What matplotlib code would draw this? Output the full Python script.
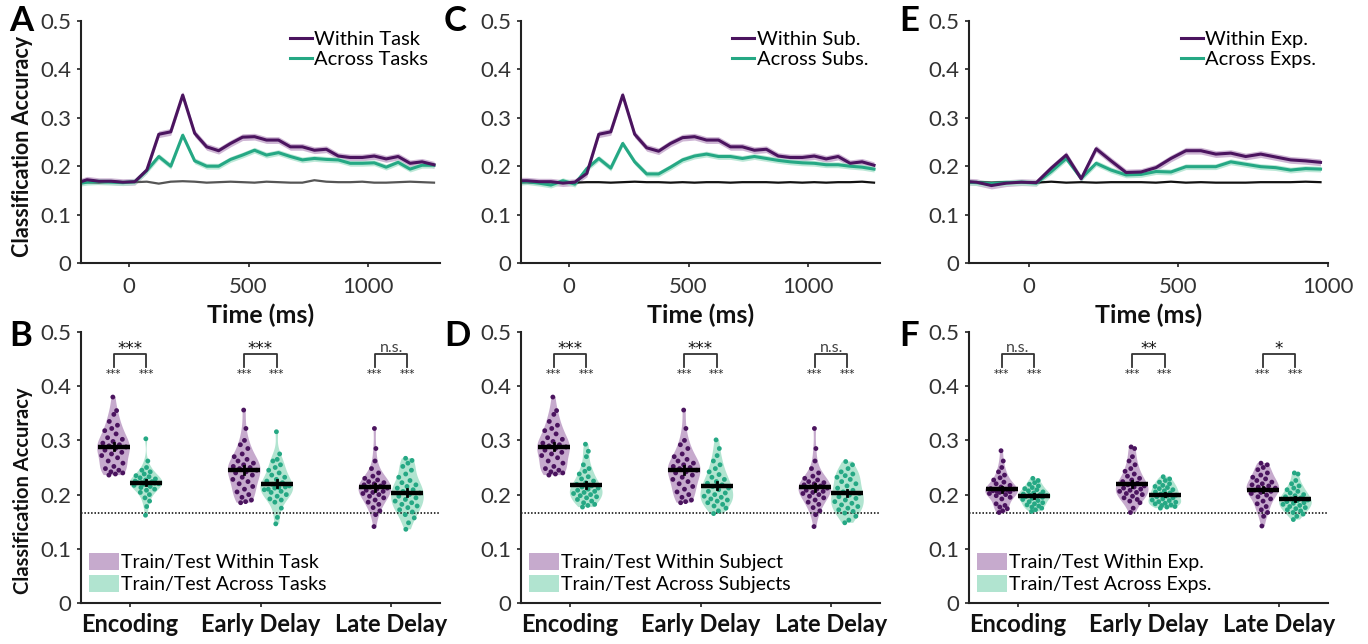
import numpy as np
import matplotlib
matplotlib.use("Agg")
import matplotlib.pyplot as plt
from matplotlib.mlab import GaussianKDE
from matplotlib.patches import Patch
from matplotlib.lines import Line2D

plt.rcParams['font.family'] = ['Lato', 'DejaVu Sans']

PURPLE = '#4b145f'
GREEN = '#25a884'
PURPLE_FILL = '#c6aacd'
GREEN_FILL = '#b1e4d0'

# ---------- time courses (top row) ----------
time_long = [-200, -175, -125, -75, -25, 25, 75, 125, 175, 225, 275, 325, 375, 425, 475,
             525, 575, 625, 675, 725, 775, 825, 875, 925, 975, 1025, 1075, 1125, 1175,
             1225, 1275]
time_short = [-200, -175, -125, -75, -25, 25, 75, 125, 175, 225, 275, 325, 375, 425, 475,
              525, 575, 625, 675, 725, 775, 825, 875, 925, 975]

within_task = [0.168, 0.172, 0.169, 0.169, 0.167, 0.168, 0.192, 0.266, 0.271, 0.347, 0.268,
               0.240, 0.232, 0.247, 0.260, 0.261, 0.254, 0.254, 0.240, 0.240, 0.233, 0.235,
               0.221, 0.218, 0.218, 0.221, 0.215, 0.220, 0.206, 0.209, 0.203]
across_task = [0.165, 0.167, 0.168, 0.167, 0.166, 0.168, 0.191, 0.220, 0.200, 0.264, 0.211,
               0.200, 0.200, 0.214, 0.223, 0.233, 0.223, 0.228, 0.220, 0.213, 0.216, 0.214,
               0.213, 0.206, 0.206, 0.207, 0.198, 0.208, 0.194, 0.202, 0.202]
chance_task = [0.165, 0.167, 0.166, 0.168, 0.167, 0.167, 0.168, 0.164, 0.168, 0.169, 0.168,
               0.166, 0.167, 0.168, 0.167, 0.166, 0.168, 0.167, 0.166, 0.166, 0.171, 0.168,
               0.167, 0.167, 0.168, 0.166, 0.166, 0.167, 0.168, 0.167, 0.166]

within_sub = [0.170, 0.170, 0.168, 0.168, 0.165, 0.167, 0.185, 0.266, 0.271, 0.347, 0.266,
              0.238, 0.231, 0.247, 0.259, 0.261, 0.254, 0.254, 0.240, 0.240, 0.233, 0.235,
              0.221, 0.218, 0.218, 0.221, 0.215, 0.220, 0.206, 0.209, 0.202]
across_sub = [0.167, 0.168, 0.165, 0.161, 0.170, 0.163, 0.195, 0.216, 0.196, 0.247, 0.209,
              0.184, 0.184, 0.198, 0.213, 0.221, 0.225, 0.220, 0.220, 0.216, 0.220, 0.216,
              0.212, 0.209, 0.207, 0.206, 0.203, 0.203, 0.200, 0.198, 0.194]
chance_sub = [0.167, 0.167, 0.166, 0.167, 0.167, 0.166, 0.167, 0.167, 0.166, 0.167, 0.168,
              0.167, 0.167, 0.166, 0.167, 0.166, 0.167, 0.167, 0.166, 0.167, 0.167, 0.167,
              0.166, 0.167, 0.166, 0.167, 0.166, 0.167, 0.167, 0.168, 0.166]

within_exp = [0.168, 0.167, 0.160, 0.165, 0.167, 0.166, 0.196, 0.223, 0.174, 0.236, 0.211,
              0.187, 0.188, 0.197, 0.216, 0.232, 0.232, 0.225, 0.227, 0.220, 0.225, 0.219,
              0.213, 0.211, 0.208]
across_exp = [0.167, 0.166, 0.164, 0.166, 0.167, 0.165, 0.189, 0.216, 0.175, 0.206, 0.192,
              0.182, 0.183, 0.189, 0.188, 0.199, 0.199, 0.199, 0.209, 0.204, 0.199, 0.197,
              0.192, 0.195, 0.194]
chance_exp = [0.166, 0.167, 0.166, 0.167, 0.167, 0.166, 0.168, 0.166, 0.167, 0.166, 0.167,
              0.167, 0.167, 0.166, 0.168, 0.166, 0.167, 0.166, 0.166, 0.166, 0.167, 0.167,
              0.167, 0.168, 0.167]

sem_within = 0.007
sem_across = 0.006

# ---------- per-subject accuracies (bottom row) ----------
categories = ['Encoding', 'Early Delay', 'Late Delay']

enc_within = [0.380, 0.355, 0.348, 0.335, 0.328, 0.322, 0.318, 0.312, 0.305, 0.302, 0.298,
              0.295, 0.292, 0.290, 0.288, 0.285, 0.282, 0.278, 0.275, 0.272, 0.268, 0.262,
              0.258, 0.252, 0.248, 0.245, 0.242, 0.240, 0.238, 0.236]
early_within = [0.356, 0.322, 0.300, 0.292, 0.285, 0.275, 0.270, 0.265, 0.262, 0.258, 0.255,
                0.252, 0.250, 0.248, 0.245, 0.242, 0.240, 0.236, 0.232, 0.228, 0.224, 0.220,
                0.215, 0.210, 0.205, 0.200, 0.195, 0.190, 0.187, 0.185]
late_within = [0.322, 0.285, 0.262, 0.248, 0.240, 0.234, 0.230, 0.227, 0.224, 0.222, 0.220,
               0.218, 0.216, 0.214, 0.212, 0.210, 0.208, 0.206, 0.204, 0.202, 0.200, 0.197,
               0.194, 0.190, 0.186, 0.182, 0.176, 0.170, 0.163, 0.141]

enc_across_task = [0.303, 0.262, 0.250, 0.245, 0.242, 0.238, 0.235, 0.233, 0.231, 0.229,
                   0.227, 0.225, 0.224, 0.222, 0.220, 0.219, 0.222, 0.221, 0.219, 0.217,
                   0.215, 0.213, 0.210, 0.208, 0.204, 0.200, 0.194, 0.188, 0.178, 0.162]
early_across_task = [0.316, 0.275, 0.265, 0.262, 0.255, 0.250, 0.245, 0.240, 0.236, 0.232,
                     0.228, 0.225, 0.222, 0.219, 0.216, 0.213, 0.210, 0.214, 0.212, 0.209,
                     0.206, 0.204, 0.200, 0.197, 0.192, 0.190, 0.186, 0.175, 0.158, 0.146]
late_across_task = [0.267, 0.263, 0.258, 0.252, 0.245, 0.238, 0.232, 0.226, 0.222, 0.218,
                    0.215, 0.212, 0.209, 0.206, 0.203, 0.200, 0.197, 0.194, 0.191, 0.188,
                    0.185, 0.182, 0.179, 0.176, 0.172, 0.168, 0.163, 0.157, 0.148, 0.136]

enc_across_sub = [0.293, 0.280, 0.270, 0.255, 0.248, 0.243, 0.238, 0.233, 0.229, 0.225,
                  0.222, 0.219, 0.216, 0.214, 0.212, 0.210, 0.208, 0.206, 0.204, 0.202,
                  0.200, 0.198, 0.196, 0.194, 0.191, 0.188, 0.185, 0.182, 0.180, 0.177]
early_across_sub = [0.301, 0.285, 0.272, 0.262, 0.255, 0.248, 0.242, 0.237, 0.232, 0.228,
                    0.224, 0.221, 0.218, 0.215, 0.212, 0.209, 0.206, 0.203, 0.200, 0.197,
                    0.195, 0.192, 0.190, 0.188, 0.185, 0.182, 0.179, 0.175, 0.170, 0.165]
late_across_sub = [0.261, 0.255, 0.248, 0.242, 0.238, 0.235, 0.232, 0.228, 0.224, 0.220,
                   0.216, 0.212, 0.208, 0.205, 0.202, 0.199, 0.196, 0.193, 0.190, 0.187,
                   0.184, 0.181, 0.178, 0.175, 0.172, 0.169, 0.166, 0.160, 0.153, 0.148]

enc_within_exp = [0.281, 0.262, 0.250, 0.242, 0.236, 0.231, 0.227, 0.223, 0.220, 0.217,
                  0.214, 0.211, 0.208, 0.206, 0.210, 0.208, 0.207, 0.205, 0.204, 0.202,
                  0.200, 0.198, 0.195, 0.192, 0.183, 0.180, 0.177, 0.174, 0.170, 0.167]
early_within_exp = [0.288, 0.285, 0.270, 0.262, 0.255, 0.248, 0.243, 0.238, 0.234, 0.230,
                    0.227, 0.224, 0.221, 0.218, 0.216, 0.214, 0.212, 0.210, 0.208, 0.206,
                    0.204, 0.202, 0.200, 0.197, 0.194, 0.191, 0.188, 0.185, 0.175, 0.167]
late_within_exp = [0.258, 0.255, 0.250, 0.246, 0.240, 0.236, 0.232, 0.229, 0.226, 0.223,
                   0.220, 0.218, 0.216, 0.214, 0.212, 0.210, 0.208, 0.206, 0.204, 0.202,
                   0.199, 0.196, 0.192, 0.188, 0.183, 0.178, 0.172, 0.167, 0.160, 0.142]
enc_across_exp = [0.230, 0.226, 0.222, 0.219, 0.216, 0.213, 0.211, 0.209, 0.207, 0.205,
                  0.203, 0.201, 0.200, 0.199, 0.198, 0.197, 0.196, 0.195, 0.193, 0.191,
                  0.189, 0.187, 0.185, 0.183, 0.181, 0.179, 0.177, 0.175, 0.172, 0.169]
early_across_exp = [0.233, 0.229, 0.226, 0.223, 0.220, 0.217, 0.215, 0.213, 0.211, 0.209,
                    0.207, 0.205, 0.203, 0.201, 0.199, 0.197, 0.196, 0.194, 0.192, 0.190,
                    0.189, 0.187, 0.186, 0.184, 0.183, 0.181, 0.180, 0.178, 0.177, 0.175]
late_across_exp = [0.240, 0.238, 0.226, 0.220, 0.216, 0.212, 0.209, 0.206, 0.203, 0.200,
                   0.198, 0.196, 0.194, 0.192, 0.190, 0.189, 0.187, 0.185, 0.184, 0.182,
                   0.180, 0.178, 0.176, 0.174, 0.172, 0.170, 0.167, 0.164, 0.160, 0.154]

sig_task = ['***', '***', 'n.s.']
sig_sub = ['***', '***', 'n.s.']
sig_exp = ['n.s.', '**', '*']

chance = 1.0 / 6

TICK_SIZE = 16
TICK_COLOR = '#333333'
STAR_FONT = ['DejaVu Sans']


def style_axis(ax):
    for s in ['top', 'right']:
        ax.spines[s].set_visible(False)
    for s in ['left', 'bottom']:
        ax.spines[s].set_linewidth(1.5)
        ax.spines[s].set_color('#222222')
    ax.tick_params(direction='out', length=3, width=1.2, colors='#222222',
                   labelsize=TICK_SIZE, labelcolor=TICK_COLOR)
    ax.set_ylim(0, 0.5)
    ax.set_yticks([0, 0.1, 0.2, 0.3, 0.4, 0.5])
    ax.set_yticklabels(['0', '0.1', '0.2', '0.3', '0.4', '0.5'])
    ax.tick_params(axis='y', pad=4)


def time_panel(ax, t, within, across, chance_line, chance_col, labels, xmax):
    t = np.array(t)
    w = np.array(within)
    a = np.array(across)
    ax.fill_between(t, w - sem_within, w + sem_within, color=PURPLE_FILL, lw=0, alpha=0.85)
    ax.fill_between(t, a - sem_across, a + sem_across, color=GREEN_FILL, lw=0, alpha=0.85)
    ax.plot(t, chance_line, color=chance_col, lw=1.6)
    ax.plot(t, a, color=GREEN, lw=2.2)
    ax.plot(t, w, color=PURPLE, lw=2.2)
    style_axis(ax)
    ax.set_xlim(-200, xmax)
    ax.set_xticks([0, 500, 1000])
    ax.tick_params(axis='x', pad=7)
    handles = [Line2D([0], [0], color=PURPLE, lw=2.2), Line2D([0], [0], color=GREEN, lw=2.2)]
    ax.legend(handles, labels, loc='upper right', frameon=False, fontsize=14.5,
              handlelength=1.1, handletextpad=0.12, labelspacing=0.15,
              borderaxespad=0.0, borderpad=0.5, bbox_to_anchor=(0.995, 1.0))


def jitter_x(vals, center, halfwidth, bw):
    vals = np.array(vals)
    kde = GaussianKDE(vals, bw)
    grid = np.linspace(vals.min(), vals.max(), 100)
    dmax = kde.evaluate(grid).max()
    dens = kde.evaluate(vals) / dmax
    u = 2 * ((np.arange(len(vals)) * 0.6180339 + 0.3) % 1.0) - 1
    return center + u * halfwidth * 0.85 * dens


def violin_panel(ax, within_sets, across_sets, sigs, labels):
    half = 0.125
    bw = 0.42
    for i, (wv, av) in enumerate(zip(within_sets, across_sets)):
        c = i + 1
        for vals, pos, fill, dot in [(wv, c - half, PURPLE_FILL, PURPLE),
                                     (av, c + half, GREEN_FILL, GREEN)]:
            parts = ax.violinplot([vals], positions=[pos], widths=2 * half,
                                  showextrema=False, bw_method=bw)
            for b in parts['bodies']:
                b.set_facecolor(fill)
                b.set_edgecolor('none')
                b.set_alpha(1)
            xs = jitter_x(vals, pos, half, bw)
            ax.scatter(xs, vals, s=12, color=dot, edgecolors='none', zorder=3)
            m = np.mean(vals)
            se = np.std(vals, ddof=1) / np.sqrt(len(vals))
            ax.plot([pos - half * 0.98, pos + half * 0.98], [m, m], color='black',
                    lw=3.2, solid_capstyle='butt', zorder=4)
            ax.plot([pos, pos], [m - se, m + se], color='black', lw=2, zorder=4)
            ax.text(pos, 0.422, '***', ha='center', va='center', fontsize=7.5,
                    color='#222222', family=STAR_FONT)
        # bracket
        ax.plot([c - half, c - half, c + half, c + half], [0.436, 0.459, 0.459, 0.436],
                color='#333333', lw=1.3)
        if sigs[i] == 'n.s.':
            ax.text(c, 0.471, 'n.s.', ha='center', va='center', fontsize=11.5,
                    color='#444444')
        else:
            ax.text(c, 0.468, sigs[i], ha='center', va='center', fontsize=12,
                    color='#111111', family=STAR_FONT)
    ax.axhline(chance, color='black', ls=(0, (1, 1.2)), lw=1.1)
    style_axis(ax)
    ax.set_xlim(0.626, 3.374)
    ax.set_xticks([1, 2, 3])
    ax.set_xticklabels(categories, fontsize=17, fontweight='bold', color='#111111')
    ax.tick_params(axis='x', pad=4)
    handles = [Patch(facecolor=PURPLE_FILL, edgecolor='none'),
               Patch(facecolor=GREEN_FILL, edgecolor='none')]
    ax.legend(handles, labels, loc='lower left', frameon=False, fontsize=14,
              handlelength=1.55, handleheight=0.95, handletextpad=0.1, labelspacing=0.2,
              borderaxespad=0.0, borderpad=0.3, bbox_to_anchor=(0.005, 0.015))


fig = plt.figure(figsize=(13.68, 6.44), dpi=100)
W, H = 1368.0, 644.0

lefts = [81, 521, 969]
top_axes = []
bot_axes = []
for i, l in enumerate(lefts):
    top_axes.append(fig.add_axes([l / W, 1 - 263 / H, 359 / W, 242 / H]))
    bot_axes.append(fig.add_axes([l / W, 1 - 603 / H, 359 / W, 271 / H]))

time_panel(top_axes[0], time_long, within_task, across_task, chance_task, '#555555',
           ['Within Task', 'Across Tasks'], 1300)
time_panel(top_axes[1], time_long, within_sub, across_sub, chance_sub, '#111111',
           ['Within Sub.', 'Across Subs.'], 1300)
time_panel(top_axes[2], time_short, within_exp, across_exp, chance_exp, '#111111',
           ['Within Exp.', 'Across Exps.'], 1000)

violin_panel(bot_axes[0], [enc_within, early_within, late_within],
             [enc_across_task, early_across_task, late_across_task], sig_task,
             ['Train/Test Within Task', 'Train/Test Across Tasks'])
violin_panel(bot_axes[1], [enc_within, early_within, late_within],
             [enc_across_sub, early_across_sub, late_across_sub], sig_sub,
             ['Train/Test Within Subject', 'Train/Test Across Subjects'])
violin_panel(bot_axes[2], [enc_within_exp, early_within_exp, late_within_exp],
             [enc_across_exp, early_across_exp, late_across_exp], sig_exp,
             ['Train/Test Within Exp.', 'Train/Test Across Exps.'])

# x labels for time panels
for l in lefts:
    fig.text((l + 179.5) / W, 1 - 315 / H, 'Time (ms)', ha='center', va='center',
             fontsize=18, fontweight='bold', color='#111111')

# y labels
fig.text(23 / W, 1 - 146 / H, 'Classification Accuracy', rotation=90, ha='center',
         va='center', fontsize=15.5, fontweight='bold', color='#111111')
fig.text(23 / W, 1 - 491 / H, 'Classification Accuracy', rotation=90, ha='center',
         va='center', fontsize=14.5, fontweight='bold', color='#111111')

# panel letters
for letter, x, y in [('A', 9, 21), ('B', 9, 336), ('C', 444, 21), ('D', 444, 336),
                     ('E', 899, 21), ('F', 899, 336)]:
    fig.text(x / W, 1 - y / H, letter, ha='left', va='center', fontsize=25,
             fontweight='bold', color='black')

fig.savefig('out.png', dpi=100)
